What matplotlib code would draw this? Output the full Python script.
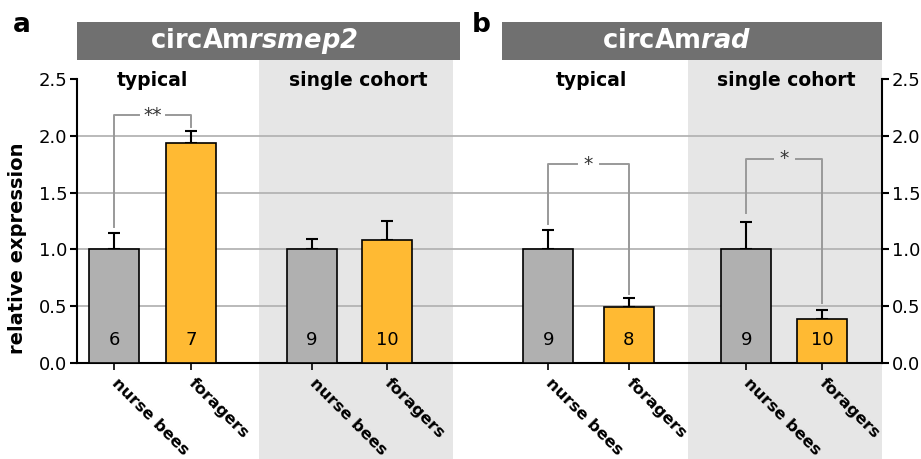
import matplotlib
matplotlib.use('Agg')
import matplotlib.pyplot as plt
from matplotlib.patches import Rectangle

# Daten
gruppen = ['nurse bees', 'foragers', 'nurse bees', 'foragers',
           'nurse bees', 'foragers', 'nurse bees', 'foragers']
mittel = [1.0, 1.94, 1.0, 1.08, 1.0, 0.494, 1.0, 0.386]
fehler = [0.14, 0.10, 0.09, 0.17, 0.167, 0.076, 0.245, 0.08]
anzahl = [6, 7, 9, 10, 9, 8, 9, 10]
untertitel = ['typical', 'single cohort', 'typical', 'single cohort']
# Signifikanz: (links unten, oben, rechts unten, Sterne)
sig_a_typ = (1.20, 2.18, 2.08, '**')
sig_b_typ = (1.22, 1.75, 0.61, '*')
sig_b_single = (1.32, 1.80, 0.525, '*')

pos = [0, 1, 2.57, 3.55, 5.64, 6.68, 8.21, 9.19]
farben = ['#b0b0b0', '#ffba33'] * 4

plt.rcParams['font.family'] = 'DejaVu Sans'
plt.rcParams['mathtext.fontset'] = 'dejavusans'

fig = plt.figure(figsize=(9.21, 4.59), dpi=100)
ax = fig.add_axes([77/921, 96/459, 805/921, 284/459])
ax.patch.set_visible(False)

ax.set_xlim(-0.48, 9.97)
ax.set_ylim(0, 2.5)

# graue Bereiche "single cohort"
ax.axvspan(1.88, 4.40, ymin=-0.34, ymax=1.068, color='#e6e6e6', zorder=0, clip_on=False, lw=0)
ax.axvspan(7.45, 9.97, ymin=-0.34, ymax=1.068, color='#e6e6e6', zorder=0, clip_on=False, lw=0)

for y in [0.5, 1.0, 1.5, 2.0]:
    ax.axhline(y, color='#b4b4b4', lw=1.3, zorder=1)

ax.bar(pos, mittel, width=0.65, color=farben, edgecolor='black', lw=1.2, zorder=3)
ax.errorbar(pos, mittel, yerr=[[0]*8, fehler], fmt='none', ecolor='black',
            elinewidth=1.5, capsize=4.5, capthick=1.5, zorder=2)

for x, n in zip(pos, anzahl):
    ax.text(x, 0.2, str(n), ha='center', va='center', fontsize=13, zorder=4)

# Klammern
def klammer(x1, x2, s, gap):
    yl, yt, yr, stern = s
    kw = dict(color='#999999', lw=1.4, zorder=2)
    m = (x1 + x2) / 2
    ax.plot([x1, x1, m - gap], [yl, yt, yt], **kw)
    ax.plot([m + gap, x2, x2], [yt, yt, yr], **kw)
    ax.text(m, yt, stern, ha='center', va='center', fontsize=13.5, color='#333333')

klammer(pos[0], pos[1], sig_a_typ, 0.18)
klammer(pos[4], pos[5], sig_b_typ, 0.15)
klammer(pos[6], pos[7], sig_b_single, 0.15)

# Achsen
ax.spines['top'].set_visible(False)
for s in ['left', 'right', 'bottom']:
    ax.spines[s].set_linewidth(1.5)
ax.set_yticks([0, 0.5, 1.0, 1.5, 2.0, 2.5])
ax.yaxis.set_ticks_position('both')
ax.tick_params(axis='y', direction='out', length=5, width=1.5, labelsize=13,
               labelright=True, pad=2)
ax.tick_params(axis='x', direction='out', length=5, width=1.2, pad=8)
ax.set_xticks(pos)
ax.set_xticklabels(gruppen, rotation=-45, ha='left', va='center',
                   rotation_mode='anchor', fontsize=11.8, fontweight='bold')

# Kopfzeilen
trans = ax.get_xaxis_transform()
ax.add_patch(Rectangle((-0.48, 1.068), 4.97, 0.134, transform=trans,
                       color='#707070', clip_on=False, lw=0))
ax.add_patch(Rectangle((5.04, 1.068), 4.93, 0.134, transform=trans,
                       color='#707070', clip_on=False, lw=0))
ax.text(1.82, 1.135, r'$\mathbf{circAm}\mathbfit{rsmep2}$', transform=trans,
        ha='center', va='center', fontsize=18.5, color='white')
ax.text(7.3, 1.135, r'$\mathbf{circAm}\mathbfit{rad}$', transform=trans,
        ha='center', va='center', fontsize=18.5, color='white')

for x, t in zip([0.5, 3.17, 6.2, 8.73], untertitel):
    ax.text(x, 2.49, t, ha='center', va='center', fontsize=13.5, fontweight='bold')

fig.text(22/921, 1 - 25/459, 'a', fontsize=19, fontweight='bold', ha='center', va='center')
fig.text(481/921, 1 - 25/459, 'b', fontsize=19, fontweight='bold', ha='center', va='center')
fig.text(18/921, 1 - 248/459, 'relative expression', rotation=90, fontsize=14,
         fontweight='bold', ha='center', va='center')

fig.savefig('out.png', dpi=100)
